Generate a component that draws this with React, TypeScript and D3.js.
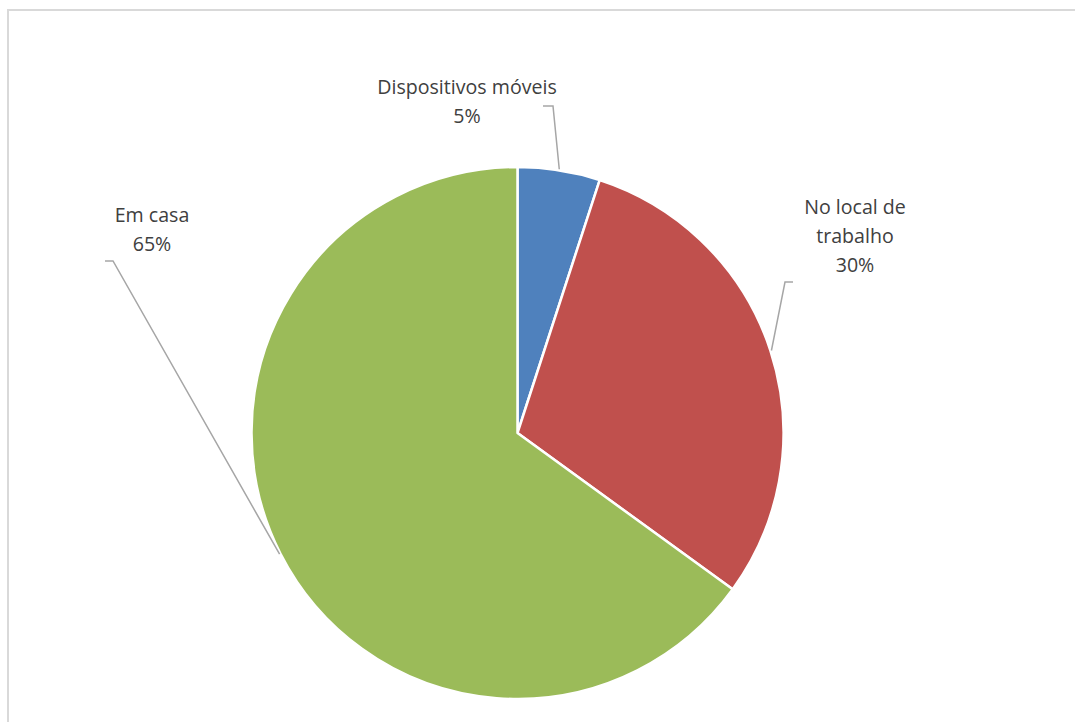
import React from "react";
import * as d3 from "d3";

const categories = ["Dispositivos móveis", "No local de trabalho", "Em casa"];
const values = [5, 30, 65];
const colors = ["#4F81BD", "#C0504D", "#9BBB59"];
// label lines (wrapped as in the reference)
const labelLines = [["Dispositivos móveis", "5%"], ["No local de", "trabalho", "30%"], ["Em casa", "65%"]];

// layout (positions of label blocks and leader-line knees)
const labelPos = [
  { x: 467, y: 94 },
  { x: 855, y: 214 },
  { x: 152, y: 222 },
];
const leaderStart = [
  { x: 543, y: 106, kx: 553 },
  { x: 793, y: 282, kx: 785 },
  { x: 105, y: 261, kx: 113 },
];

export default function App() {
  const W = 1075, H = 722;
  const cx = 517.5, cy = 433, r = 266;
  const pie = d3.pie<number>().sort(null).value((d) => d);
  const arcs = pie(values);
  const arc = d3.arc<d3.PieArcDatum<number>>().innerRadius(0).outerRadius(r);
  const edge = d3.arc<d3.PieArcDatum<number>>().innerRadius(r + 1).outerRadius(r + 1);
  const lineH = 28.8;
  return (
    <svg width={W} height={H} style={{ position: "absolute", left: 0, top: 0 }}>
      <rect x={0} y={0} width={W} height={H} fill="#fff" />
      <rect x={8} y={10} width={W + 20} height={H + 20} fill="#fff" stroke="#d9d9d9" strokeWidth={2} />
      <g transform={`translate(${cx},${cy})`}>
        {arcs.map((a, i) => (
          <path key={i} d={arc(a) || ""} fill={colors[i]} stroke="#fff" strokeWidth={2.5} strokeLinejoin="round" />
        ))}
      </g>
      {arcs.map((a, i) => {
        const [ex, ey] = edge.centroid(a);
        const s = leaderStart[i];
        return (
          <polyline
            key={i}
            points={`${s.x},${s.y} ${s.kx},${s.y} ${cx + ex},${cy + ey}`}
            fill="none"
            stroke="#a6a6a6"
            strokeWidth={1.5}
          />
        );
      })}
      {labelLines.map((lines, i) => (
        <text
          key={i}
          x={labelPos[i].x}
          y={labelPos[i].y}
          textAnchor="middle"
          fontFamily="'Open Sans', sans-serif"
          fontSize={19.6}
          fill="#404040"
          aria-label={categories[i]}
        >
          {lines.map((l, j) => (
            <tspan key={j} x={labelPos[i].x} dy={j === 0 ? 0 : lineH}>
              {l}
            </tspan>
          ))}
        </text>
      ))}
    </svg>
  );
}
